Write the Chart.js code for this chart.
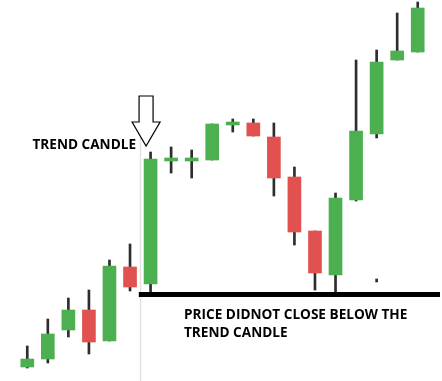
<!DOCTYPE html>
<html lang="en">
<head>
    <meta charset="UTF-8">
    <title>Trend Candle</title>
    <style>
        body {
            margin: 0;
            padding: 0;
            background-color: #fff;
        }
        #chart-box {
            width: 442px;
            height: 381px;
        }
    </style>
</head>
<body>

<div id="chart-box">
    <canvas id="candleChart" width="442" height="381"></canvas>
</div>

<script src="https://cdn.jsdelivr.net/npm/chart.js"></script>
<script>
// one entry per candle, left to right
const labels = ['1', '2', '3', '4', '5', '6', '7', '8', '9', '10',
                '11', '12', '13', '14', '15', '16', '17', '18', '19', '20'];
const opens  = [1.4, 2.2, 5.1, 7.1, 4.0, 11.4, 9.7, 22.0, 22.0, 22.1, 25.6, 25.8, 24.4, 20.4, 15.0, 10.6, 18.1, 24.7, 32.1, 32.9];
const closes = [2.2, 4.7, 7.1, 3.9, 11.5, 9.4, 22.2, 22.3, 22.3, 25.7, 25.9, 24.5, 20.3, 14.9, 10.8, 18.3, 25.0, 31.9, 33.0, 37.3];
const lows   = [1.3, 1.8, 4.4, 2.7, 4.0, 9.0, 8.9, 20.8, 20.3, 22.1, 24.9, 24.5, 18.5, 13.6, 9.1, 8.9, 18.0, 24.3, 32.1, 32.9];
const highs  = [3.5, 6.2, 8.3, 9.1, 12.1, 13.7, 22.9, 23.4, 23.1, 25.7, 26.2, 26.2, 25.8, 21.4, 15.0, 18.8, 32.1, 33.1, 36.8, 37.9];

const trendIndex = 6;        // the big green candle
const supportLevel = 8.65;   // thick black line under it
const strayMark = [null, null, null, null, null, null, null, null, null, null,
                   null, null, null, null, null, null, null, [9.9, 10.2], null, null];

const upColor = '#4caf50';
const downColor = '#e0514f';

const bodies = opens.map((o, i) => [o, closes[i]]);
const wicks = lows.map((l, i) => [l, highs[i]]);
const bodyColors = opens.map((o, i) => closes[i] >= o ? upColor : downColor);

// lines, arrow and texts drawn over the candles
const notesPlugin = {
    id: 'notes',
    beforeDatasetsDraw(chart) {
        const ctx = chart.ctx;
        const x = chart.scales.x;
        const slot = x.getPixelForValue(1) - x.getPixelForValue(0);
        const gx = Math.round(x.getPixelForValue(trendIndex) - slot / 2) + 0.5;
        ctx.save();
        ctx.strokeStyle = '#e3e3e3';
        ctx.lineWidth = 1.5;
        ctx.beginPath();
        ctx.moveTo(gx, 120);
        ctx.lineTo(gx, chart.height);
        ctx.stroke();
        ctx.restore();
    },
    afterDatasetsDraw(chart) {
        const ctx = chart.ctx;
        const x = chart.scales.x;
        const y = chart.scales.y;
        const slot = x.getPixelForValue(1) - x.getPixelForValue(0);
        const cx = x.getPixelForValue(trendIndex);

        ctx.save();
        // support line
        ctx.fillStyle = '#000';
        const ly = y.getPixelForValue(supportLevel);
        ctx.fillRect(cx - slot / 2 - 1.5, ly - 2.5, chart.width - (cx - slot / 2 - 1.5) - 2, 5);

        // hollow arrow pointing at the trend candle
        const ax = cx - 4.5;
        const tip = y.getPixelForValue(highs[trendIndex]) - 6;
        ctx.beginPath();
        ctx.moveTo(ax - 7, tip - 50);
        ctx.lineTo(ax + 7, tip - 50);
        ctx.lineTo(ax + 7, tip - 24);
        ctx.lineTo(ax + 14, tip - 24);
        ctx.lineTo(ax, tip);
        ctx.lineTo(ax - 14, tip - 24);
        ctx.lineTo(ax - 7, tip - 24);
        ctx.closePath();
        ctx.fillStyle = '#fff';
        ctx.fill();
        ctx.strokeStyle = '#000';
        ctx.lineWidth = 1.2;
        ctx.stroke();

        // texts
        ctx.fillStyle = '#000';
        ctx.font = 'bold 13.6px "Open Sans"';
        ctx.textAlign = 'right';
        ctx.textBaseline = 'alphabetic';
        ctx.fillText('TREND CANDLE', 136, 149);
        ctx.textAlign = 'left';
        ctx.fillText('PRICE DIDNOT CLOSE BELOW THE', 184, 319);
        ctx.fillText('TREND CANDLE', 184, 337);
        ctx.restore();
    }
};

new Chart(document.getElementById('candleChart'), {
    type: 'bar',
    data: {
        labels: labels,
        datasets: [
            {
                label: 'Body',
                data: bodies,
                backgroundColor: bodyColors,
                barThickness: 13,
                borderWidth: 0,
                borderSkipped: false,
                grouped: false
            },
            {
                label: 'Wick',
                data: wicks,
                backgroundColor: '#2d2d2d',
                barThickness: 2,
                borderWidth: 0,
                borderSkipped: false,
                grouped: false
            },
            {
                label: 'Mark',
                data: strayMark,
                backgroundColor: '#2d2d2d',
                barThickness: 2,
                borderWidth: 0,
                grouped: false
            }
        ]
    },
    options: {
        responsive: false,
        animation: false,
        layout: {
            padding: { left: 17, right: 14, top: 0, bottom: 0 }
        },
        plugins: {
            legend: { display: false },
            tooltip: { enabled: false }
        },
        scales: {
            x: { display: false },
            y: { display: false, min: 0, max: 38.1 }
        }
    },
    plugins: [notesPlugin]
});
</script>

</body>
</html>
